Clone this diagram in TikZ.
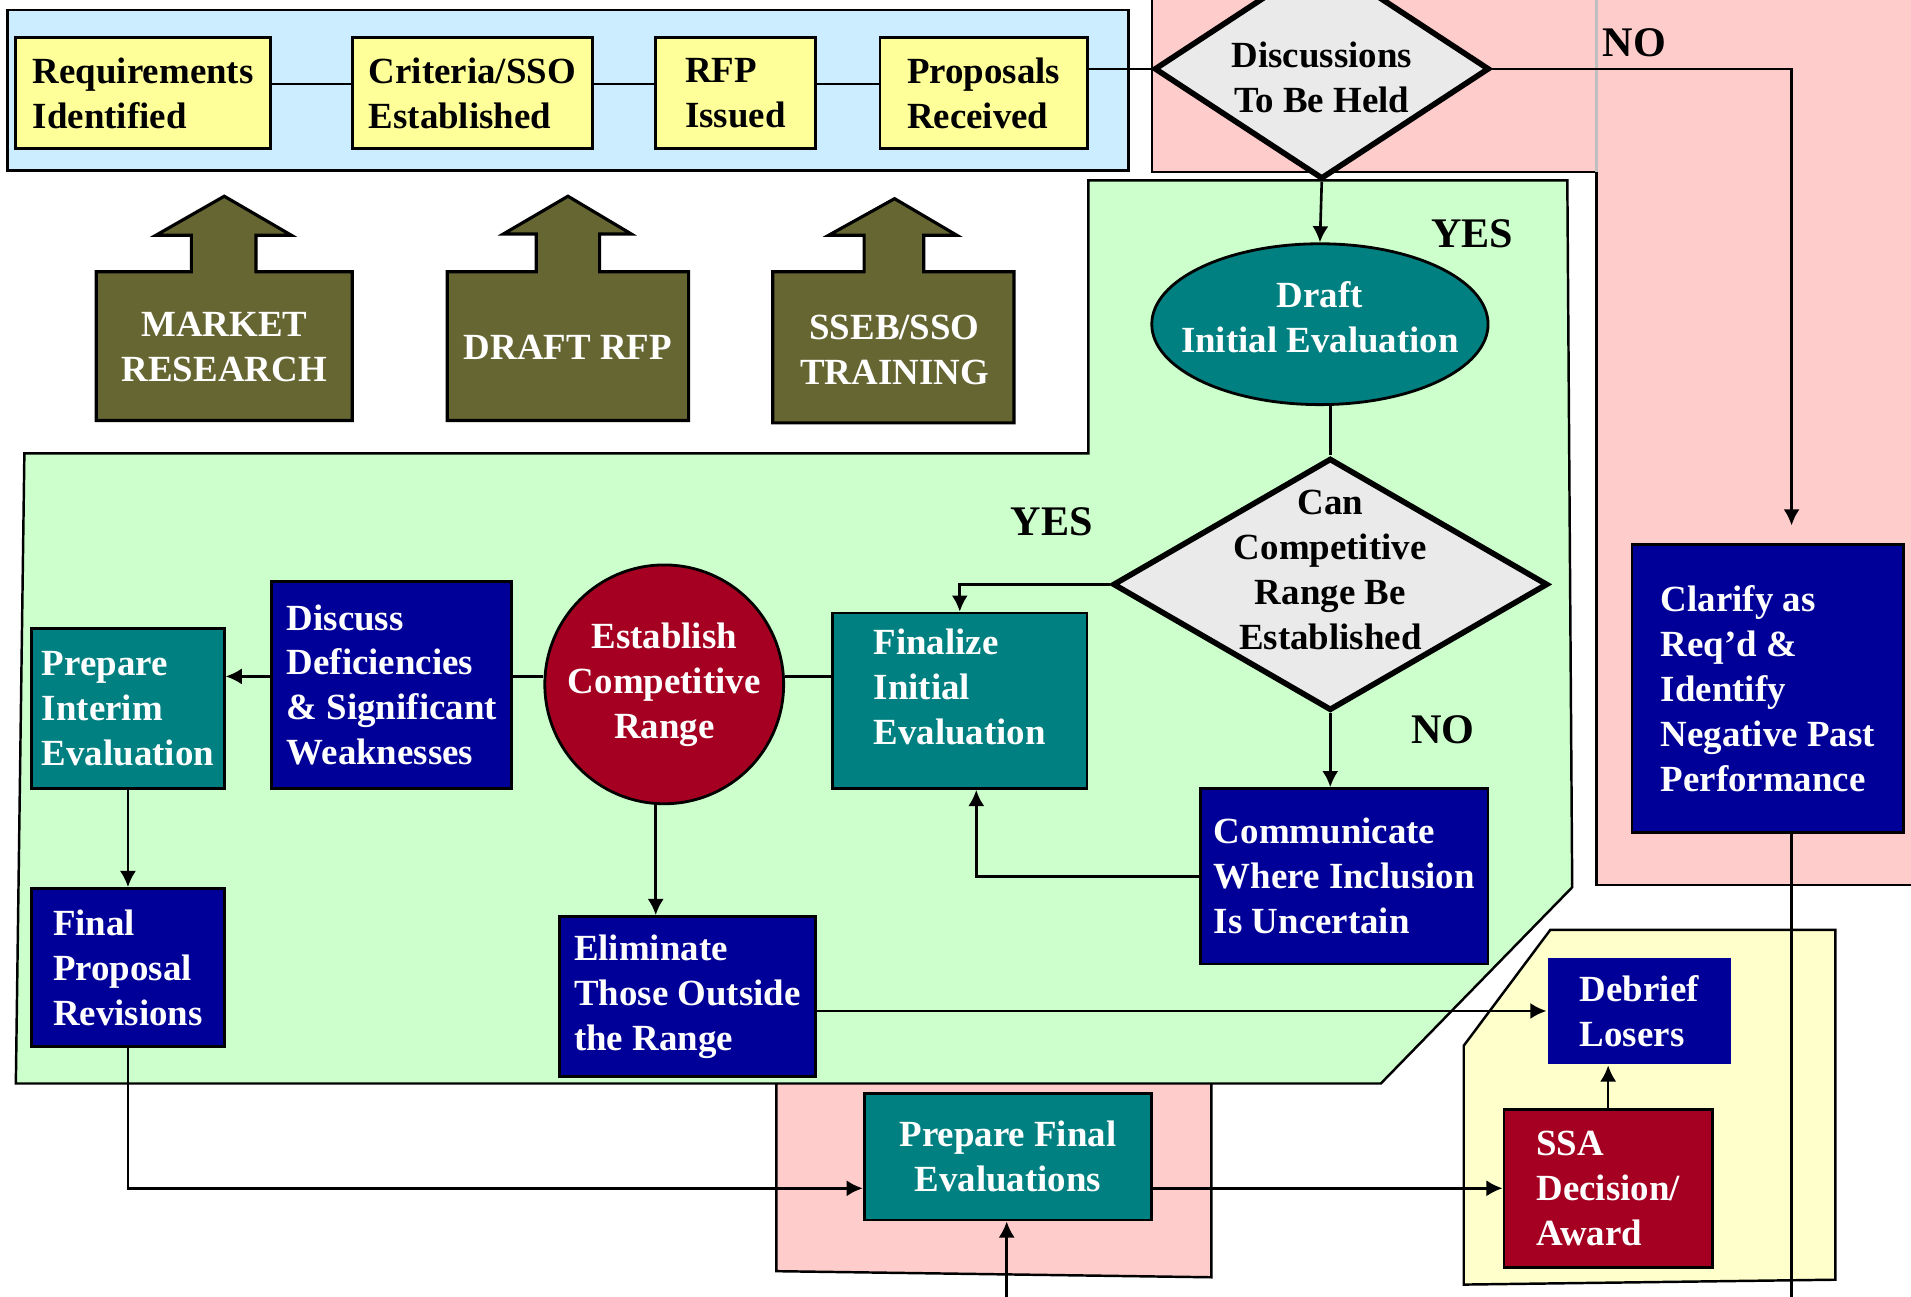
\documentclass[tikz,border=0pt]{standalone}
\usepackage{fontspec}
\setmainfont{Liberation Serif}
\usepackage{tikz}
\usetikzlibrary{arrows.meta}
\usetikzlibrary{shapes.geometric}

\definecolor{panelblue}{HTML}{CCECFF}
\definecolor{panelpink}{HTML}{FFCCCC}
\definecolor{panelgreen}{HTML}{CCFFCC}
\definecolor{panelyellow}{HTML}{FFFFCC}
\definecolor{boxyellow}{HTML}{FFFF99}
\definecolor{boxteal}{HTML}{008080}
\definecolor{boxnavy}{HTML}{000099}
\definecolor{boxred}{HTML}{A50021}
\definecolor{boxolive}{HTML}{666633}
\definecolor{boxgrey}{HTML}{EAEAEA}

\newcommand{\shapetext}[2]{\raisebox{#1}[0pt][0pt]{\makebox[0pt]{\begin{tabular}{@{}c@{}}#2\end{tabular}}}}

\tikzset{
  every node/.style={font=\fontsize{10.5}{12.8}\selectfont\bfseries},
  flowbox/.style={draw, line width=0.8pt, inner sep=2pt, align=left},
  yellowbox/.style={flowbox, fill=boxyellow, text=black},
  tealbox/.style={flowbox, fill=boxteal, text=white},
  navybox/.style={flowbox, fill=boxnavy, text=white},
  redbox/.style={flowbox, fill=boxred, text=white},
  decision/.style={diamond, draw, line width=1.6pt, fill=boxgrey, inner sep=0pt},
  answer/.style={font=\fontsize{12}{14}\selectfont\bfseries},
  olive/.style={draw, line width=0.9pt, fill=boxolive},
  olivetext/.style={text=white, align=center},
  panel/.style={line width=0.7pt},
}

\begin{document}
\begin{tikzpicture}[x=0.012188cm, y=-0.012188cm, >={Latex[length=4.6pt,width=4.6pt]}, line width=0.75pt]
    \useasboundingbox (0,0) rectangle (1568,1064);

    \draw[panel, fill=panelblue] (6,8) rectangle (926,140);
    \fill[panelpink] (945,-2) rectangle (1310,141);
    \fill[panelpink] (1310,-2) rectangle (1572,726);
    \draw[panel] (945,-2) -- (945,141) -- (1310,141) -- (1310,726) -- (1572,726);
    \draw[panel, black!25] (1310,-2) -- (1310,141);
    \draw[panel, fill=panelpink] (994,889) -- (994,1048) -- (637,1043) -- (637,889);
    \draw[panel, fill=panelgreen] (893,148) -- (1286,148) -- (1290,728) -- (1133,889) -- (13,889) -- (20,372) -- (893,372) -- cycle;
    \draw[panel, fill=panelyellow] (1272,763) -- (1506,763) -- (1506,1050) -- (1201,1054) -- (1201,858) -- cycle;

    \node[yellowbox, minimum width=2.547cm, minimum height=1.109cm] (req) at (117.5,76.5) {Requirements\\Identified};
    \node[yellowbox, minimum width=2.401cm, minimum height=1.109cm] (crit) at (387.5,76.5) {Criteria/SSO\\Established};
    \node[yellowbox, minimum width=1.597cm, minimum height=1.109cm] (rfp) at (603.5,76.5) {RFP\\Issued};
    \node[yellowbox, minimum width=2.072cm, minimum height=1.109cm] (prop) at (807,76.5) {Proposals\\Received};

    \draw[olive] (79,345) -- (79,223) -- (157,223) -- (157,193) -- (128,193) -- (184,161) -- (239,193) -- (210,193) -- (210,223) -- (289,223) -- (289,345) -- cycle;
    \node[olivetext] (market) at (184,285) {MARKET\\RESEARCH};
    \draw[olive] (367,345) -- (367,223) -- (440,223) -- (440,192) -- (413,192) -- (466,161) -- (518,192) -- (492,192) -- (492,223) -- (565,223) -- (565,345) -- cycle;
    \node[olivetext] (drfp) at (466,285) {DRAFT RFP};
    \draw[olive] (634,347) -- (634,223) -- (709,223) -- (709,193) -- (680,193) -- (734,163) -- (785,193) -- (758,193) -- (758,223) -- (832,223) -- (832,347) -- cycle;
    \node[olivetext] (sseb) at (734,287.5) {SSEB/SSO\\TRAINING};

    \node[decision, minimum width=3.352cm, minimum height=2.206cm] (held) at (1084.5,56.5) {\shapetext{-6.2pt}{Discussions\\To Be Held}};
    \node[ellipse, draw, fill=boxteal, text=white, line width=0.8pt, inner sep=0pt, minimum width=3.364cm, minimum height=1.609cm] (draft) at (1083,266) {\shapetext{-1.7pt}{Draft\\Initial Evaluation}};
    \node[decision, minimum width=4.351cm, minimum height=2.523cm] (canrange) at (1091.5,479.5) {\shapetext{0.5pt}{Can\\Competitive\\Range Be\\Established}};

    \node[tealbox, minimum width=2.547cm, minimum height=1.755cm] (final) at (787.5,575) {Finalize\\Initial\\Evaluation\\[-5pt]};
    \node[navybox, minimum width=2.876cm, minimum height=1.755cm] (comm) at (1103,719) {Communicate\\Where Inclusion\\Is Uncertain};
    \node[circle, draw, fill=boxred, text=white, line width=0.8pt, inner sep=0pt, minimum size=2.389cm, align=center] (estab) at (545,561.5) {Establish\\Competitive\\Range};
    \node[navybox, minimum width=2.401cm, minimum height=2.072cm] (defic) at (321.5,562) {Discuss\\Deficiencies\\\& Significant\\Weaknesses};
    \node[tealbox, minimum width=1.926cm, minimum height=1.597cm] (interim) at (105,581.5) {Prepare\\Interim\\Evaluation};
    \node[navybox, minimum width=1.926cm, minimum height=1.584cm] (fpr) at (105,794) {Final\\Proposal\\Revisions};
    \node[navybox, minimum width=2.559cm, minimum height=1.597cm] (elim) at (564,817.5) {Eliminate\\Those Outside\\the Range};
    \node[tealbox, align=center, minimum width=2.876cm, minimum height=1.268cm] (pfe) at (827,949) {Prepare Final\\Evaluations};
    \node[redbox, minimum width=2.084cm, minimum height=1.584cm] (ssa) at (1319.5,975) {SSA\\Decision/\\Award};
    \node[navybox, draw=none, minimum width=1.828cm, minimum height=1.060cm] (debrief) at (1345,829.5) {Debrief\\Losers};
    \node[navybox, minimum width=2.718cm, minimum height=2.876cm] (clarify) at (1450.5,565) {Clarify as\\Req’d \&\\Identify\\Negative Past\\Performance};

    \node[answer] (yes1) at (1208,192) {YES};
    \node[answer] (no1) at (1341,35) {NO};
    \node[answer] (yes2) at (863,428) {YES};
    \node[answer] (no2) at (1184,599) {NO};

    \coordinate (toprow) at (0,69);
    \coordinate (midrow) at (0,555);
    \coordinate (pfebelow) at (826,1064);
    \coordinate (clarifybelow) at (1470,1064);

    \draw (req.east |- toprow) -- (crit.west |- toprow);
    \draw (crit.east |- toprow) -- (rfp.west |- toprow);
    \draw (rfp.east |- toprow) -- (prop.west |- toprow);
    \draw (prop.east |- held.west) -- (held.west);
    \draw[->] (held.south) -- (draft.north);
    \draw[->, shorten >=0.18cm] (held.east) -| (clarifybelow |- clarify.north);
    \draw (clarifybelow |- clarify.south) -- (clarifybelow);
    \draw (canrange.north |- draft.south) -- (canrange.north);
    \draw[->] (canrange.west) -| (final.north);
    \draw[->] (canrange.south) -- (canrange.south |- comm.north);
    \draw[->] (comm.west) -| ([xshift=0.165cm]final.south);
    \draw (final.west |- midrow) -- (estab.east |- midrow);
    \draw (estab.west |- midrow) -- (defic.east |- midrow);
    \draw[->] (defic.west |- midrow) -- (interim.east |- midrow);
    \draw[->] (interim.south) -- (fpr.north);
    \draw[->] ([xshift=-0.085cm]estab.south) -- ([xshift=-0.085cm]estab.south |- elim.north);
    \draw[->] (elim.east |- debrief.west) -- (debrief.west);
    \draw[->] (fpr.south) |- (pfe.west |- ssa.west);
    \draw[->] (pfe.east |- ssa.west) -- (ssa.west);
    \draw[->] (ssa.north) -- (ssa.north |- debrief.south);
    \draw[->] (pfebelow) -- (pfebelow |- pfe.south);

  \end{tikzpicture}
\end{document}
